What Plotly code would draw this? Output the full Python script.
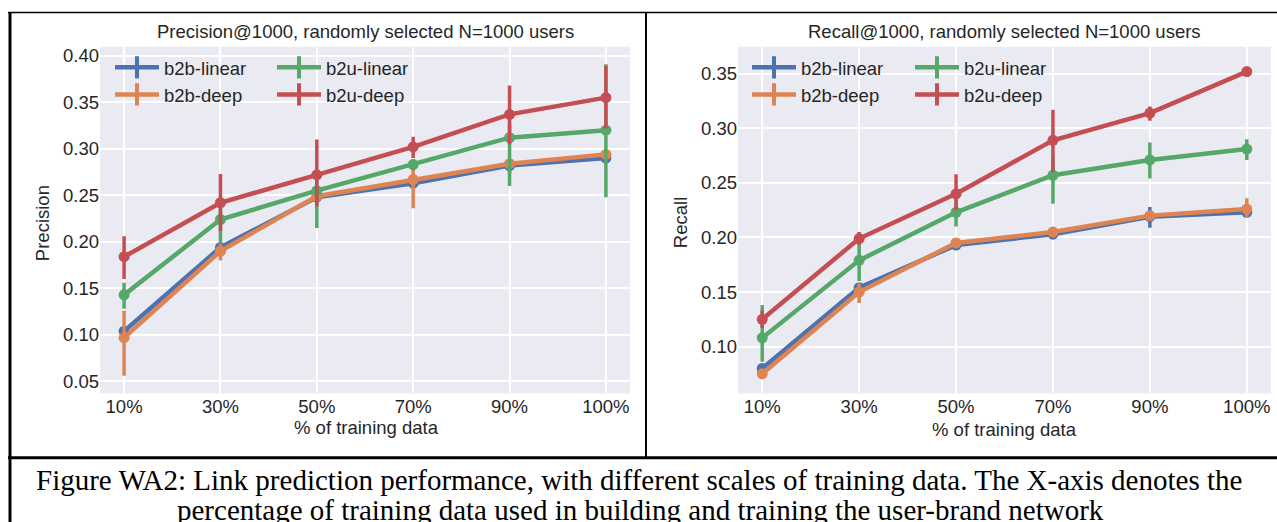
import plotly.graph_objects as go

W, H = 1277, 522

# Training-data fractions (x categories)
categories = ["10%", "30%", "50%", "70%", "90%", "100%"]

# Precision@1000 means and asymmetric CI half-widths
prec_b2b_linear = [0.104, 0.194, 0.248, 0.263, 0.282, 0.290]
prec_b2b_linear_up = [0.004, 0.005, 0.004, 0.004, 0.004, 0.004]
prec_b2b_linear_dn = [0.004, 0.005, 0.004, 0.005, 0.008, 0.004]

prec_b2b_deep = [0.097, 0.190, 0.249, 0.267, 0.284, 0.294]
prec_b2b_deep_up = [0.029, 0.008, 0.004, 0.012, 0.004, 0.004]
prec_b2b_deep_dn = [0.041, 0.010, 0.004, 0.031, 0.004, 0.004]

prec_b2u_linear = [0.143, 0.224, 0.255, 0.283, 0.312, 0.320]
prec_b2u_linear_up = [0.013, 0.016, 0.012, 0.006, 0.016, 0.071]
prec_b2u_linear_dn = [0.015, 0.026, 0.040, 0.006, 0.052, 0.072]

prec_b2u_deep = [0.184, 0.242, 0.272, 0.302, 0.337, 0.355]
prec_b2u_deep_up = [0.022, 0.031, 0.038, 0.011, 0.031, 0.034]
prec_b2u_deep_dn = [0.024, 0.030, 0.034, 0.012, 0.032, 0.033]

# Recall@1000 means and asymmetric CI half-widths
rec_b2b_linear = [0.080, 0.154, 0.193, 0.203, 0.219, 0.223]
rec_b2b_linear_up = [0.004, 0.004, 0.003, 0.004, 0.009, 0.004]
rec_b2b_linear_dn = [0.004, 0.004, 0.003, 0.004, 0.010, 0.004]

rec_b2b_deep = [0.075, 0.150, 0.195, 0.205, 0.220, 0.226]
rec_b2b_deep_up = [0.004, 0.008, 0.003, 0.003, 0.004, 0.010]
rec_b2b_deep_dn = [0.004, 0.010, 0.003, 0.003, 0.004, 0.008]

rec_b2u_linear = [0.108, 0.179, 0.223, 0.257, 0.271, 0.281]
rec_b2u_linear_up = [0.030, 0.021, 0.012, 0.018, 0.016, 0.009]
rec_b2u_linear_dn = [0.022, 0.019, 0.013, 0.026, 0.017, 0.010]

rec_b2u_deep = [0.125, 0.199, 0.240, 0.289, 0.314, 0.352]
rec_b2u_deep_up = [0.008, 0.006, 0.018, 0.028, 0.006, 0.004]
rec_b2u_deep_dn = [0.008, 0.006, 0.015, 0.029, 0.007, 0.005]

series_names = ["b2b-linear", "b2b-deep", "b2u-linear", "b2u-deep"]
colors = {"b2b-linear": "#4C72B0", "b2b-deep": "#DD8452",
          "b2u-linear": "#55A868", "b2u-deep": "#C44E52"}

precision = {
    "b2b-linear": (prec_b2b_linear, prec_b2b_linear_up, prec_b2b_linear_dn),
    "b2b-deep": (prec_b2b_deep, prec_b2b_deep_up, prec_b2b_deep_dn),
    "b2u-linear": (prec_b2u_linear, prec_b2u_linear_up, prec_b2u_linear_dn),
    "b2u-deep": (prec_b2u_deep, prec_b2u_deep_up, prec_b2u_deep_dn),
}
recall = {
    "b2b-linear": (rec_b2b_linear, rec_b2b_linear_up, rec_b2b_linear_dn),
    "b2b-deep": (rec_b2b_deep, rec_b2b_deep_up, rec_b2b_deep_dn),
    "b2u-linear": (rec_b2u_linear, rec_b2u_linear_up, rec_b2u_linear_dn),
    "b2u-deep": (rec_b2u_deep, rec_b2u_deep_up, rec_b2u_deep_dn),
}

SANS = "Liberation Sans, Arial, sans-serif"
SERIF = "Liberation Serif, Times New Roman, serif"
TXT = "#262626"
FS = 18.5


def px_x(x):
    return x / W


def px_y(y):
    return 1 - y / H


fig = go.Figure()

for data, xa, ya in ((precision, "x", "y"), (recall, "x2", "y2")):
    for name in series_names:
        vals, up, dn = data[name]
        c = colors[name]
        fig.add_trace(go.Scatter(
            x=categories, y=vals, xaxis=xa, yaxis=ya, name=name,
            mode="lines+markers", showlegend=False,
            line=dict(color=c, width=4.5),
            marker=dict(color=c, size=11),
            error_y=dict(type="data", symmetric=False, array=up, arrayminus=dn,
                         color=c, thickness=3.5, width=0),
        ))

# legend entries: two columns per panel, each column its own legend box
legend_cols = [("legend", ["b2b-linear", "b2b-deep"]),
               ("legend2", ["b2u-linear", "b2u-deep"]),
               ("legend3", ["b2b-linear", "b2b-deep"]),
               ("legend4", ["b2u-linear", "b2u-deep"])]
for leg, names in legend_cols:
    for name in names:
        c = colors[name]
        fig.add_trace(go.Scatter(
            x=[None], y=[None], name=name, legend=leg, showlegend=True,
            mode="lines+markers",
            line=dict(color=c, width=4.5),
            marker=dict(symbol="line-ns", size=16, color=c,
                        line=dict(color=c, width=4)),
        ))

legend_style = dict(xanchor="left", yanchor="top", bgcolor="rgba(0,0,0,0)",
                    font=dict(family=SANS, size=FS, color=TXT),
                    itemwidth=44, tracegroupgap=0, traceorder="normal")

axis_common = dict(showgrid=True, gridcolor="white", gridwidth=1.5,
                   zeroline=False, showline=False, ticks="",
                   tickfont=dict(family=SANS, size=FS, color=TXT))

fig.update_layout(
    width=W, height=H,
    margin=dict(l=0, r=0, t=0, b=0),
    paper_bgcolor="white", plot_bgcolor="#EAEAF2",
    xaxis=dict(domain=[px_x(100), px_x(630)], anchor="y", type="category",
               categoryorder="array", categoryarray=categories,
               range=[-0.25, 5.25], **axis_common),
    yaxis=dict(domain=[px_y(393), px_y(45)], anchor="x",
               range=[0.037, 0.4096], dtick=0.05, tick0=0.05,
               tickformat=".2f", **axis_common),
    xaxis2=dict(domain=[px_x(738), px_x(1271)], anchor="y2", type="category",
                categoryorder="array", categoryarray=categories,
                range=[-0.25, 5.25], **axis_common),
    yaxis2=dict(domain=[px_y(393), px_y(45)], anchor="x2",
                range=[0.057, 0.3747], dtick=0.05, tick0=0.05,
                tickformat=".2f", **axis_common),
    legend=dict(x=px_x(110), y=px_y(47), **legend_style),
    legend2=dict(x=px_x(272), y=px_y(47), **legend_style),
    legend3=dict(x=px_x(747), y=px_y(47), **legend_style),
    legend4=dict(x=px_x(910), y=px_y(47), **legend_style),
)

annotations = [
    dict(text="Precision@1000, randomly selected N=1000 users", x=px_x(365), y=px_y(30)),
    dict(text="Recall@1000, randomly selected N=1000 users", x=px_x(1005), y=px_y(30)),
    dict(text="% of training data", x=px_x(366), y=px_y(427)),
    dict(text="% of training data", x=px_x(1005), y=px_y(429)),
    dict(text="Precision", x=px_x(42), y=px_y(222), textangle=-90),
    dict(text="Recall", x=px_x(680), y=px_y(222), textangle=-90),
]
for a in annotations:
    a["font"] = dict(family=SANS, size=FS, color=TXT)

caption_lines = [
    ("Figure WA2: Link prediction performance, with different scales of training data. "
     "The X-axis denotes the", 639, 480),
    ("percentage of training data used in building and training the user-brand network", 640, 510),
]
for text, cx, cy in caption_lines:
    annotations.append(dict(text=text, x=px_x(cx), y=px_y(cy),
                            font=dict(family=SERIF, size=29, color="black")))

for a in annotations:
    a.update(xref="paper", yref="paper", showarrow=False,
             xanchor="center", yanchor="middle")
fig.update_layout(annotations=annotations)

# table rules framing the two panels and the caption
rules = [
    (8, 10.5, 1277, 10.5, 1.5),
    (10, 10, 10, 522, 3),
    (646, 10, 646, 457, 2),
    (8, 457.5, 1277, 457.5, 3),
]
fig.update_layout(shapes=[
    dict(type="line", xref="paper", yref="paper",
         x0=px_x(x0), y0=px_y(y0), x1=px_x(x1), y1=px_y(y1),
         line=dict(color="black", width=w))
    for x0, y0, x1, y1, w in rules
])

fig.write_html("out.html")
